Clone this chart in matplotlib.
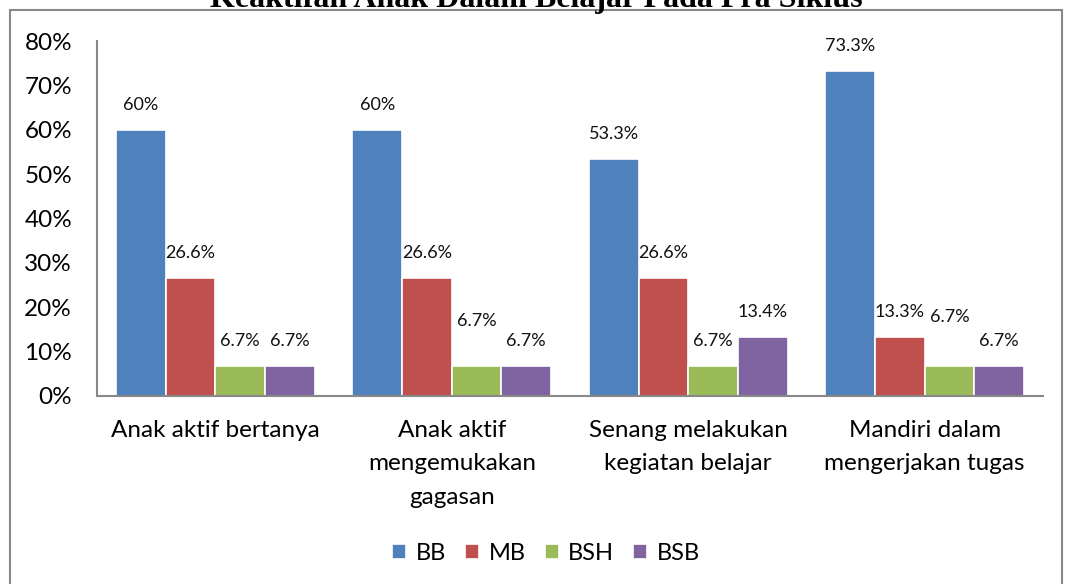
import numpy as np
import matplotlib
matplotlib.use("Agg")
import matplotlib.pyplot as plt
from matplotlib.patches import Rectangle

# data
categories = ["Anak aktif bertanya", "Anak aktif\nmengemukakan\ngagasan",
              "Senang melakukan\nkegiatan belajar", "Mandiri dalam\nmengerjakan tugas"]
series = ["BB", "MB", "BSH", "BSB"]
bb = [60, 60, 53.3, 73.3]
mb = [26.6, 26.6, 26.6, 13.3]
bsh = [6.7, 6.7, 6.7, 6.7]
bsb = [6.7, 6.7, 13.4, 6.7]
labels_bb = ["60%", "60%", "53.3%", "73.3%"]
labels_mb = ["26.6%", "26.6%", "26.6%", "13.3%"]
labels_bsh = ["6.7%", "6.7%", "6.7%", "6.7%"]
labels_bsb = ["6.7%", "6.7%", "13.4%", "6.7%"]

colors = ["#4F81BD", "#C0504D", "#9BBB59", "#8064A2"]
# extra lift (pixels) Excel gave some labels to avoid overlaps
extra_lift = [[0, 0, 0, 0], [0, 0, 0, 0], [0, 20, 0, 24], [0, 0, 0, 0]]

plt.rcParams['font.family'] = ['Lato', 'DejaVu Sans']

fig = plt.figure(figsize=(10.65, 5.84), dpi=100)
ax = fig.add_axes([97/1065, 1-396/584, (1043-97)/1065, (396-41)/584])

x = np.arange(len(categories))
w = 0.21
values = [bb, mb, bsh, bsb]
texts = [labels_bb, labels_mb, labels_bsh, labels_bsb]
for i, (vals, name) in enumerate(zip(values, series)):
    pos = x + (i - 1.5) * w
    ax.bar(pos, vals, w, color=colors[i], edgecolor="white", linewidth=1.2, label=name)
    for j, (p, v) in enumerate(zip(pos, vals)):
        ax.annotate(texts[i][j], (p, v), xytext=(0, 25 + extra_lift[i][j]),
                    textcoords="offset pixels", ha="center", va="center",
                    fontsize=13, color="#111111")

ax.set_xlim(-0.5, 3.5)
ax.set_ylim(0, 80)
ax.set_yticks(range(0, 81, 10))
ax.set_yticklabels([f"{t}%" for t in range(0, 81, 10)], fontsize=17.5)
ax.set_xticks(x)
ax.set_xticklabels(categories, fontsize=17.5, linespacing=1.75)
ax.tick_params(axis="y", length=0, pad=18)
ax.tick_params(axis="x", length=0, pad=17)
for s in ["top", "right"]:
    ax.spines[s].set_visible(False)
for s in ["left", "bottom"]:
    ax.spines[s].set_color("#888888")
    ax.spines[s].set_linewidth(1.5)

fig.legend(loc="center", bbox_to_anchor=(546/1065, 1-553/584), ncol=4, frameon=False,
           fontsize=17, handlelength=0.6, handleheight=0.6, handletextpad=0.4,
           columnspacing=0.8)

# outer chart border (bottom edge falls outside the image)
fig.patches.append(Rectangle((10/1065, -0.1), (1062-10)/1065, 1.1-10/584,
                             transform=fig.transFigure, fill=False,
                             edgecolor="#888888", linewidth=1.5))
fig.text(536/1065, 1-7/584, "Keaktifan Anak Dalam Belajar Pada Pra Siklus",
         ha="center", va="baseline", fontsize=23, fontweight="bold",
         family="Liberation Serif")

fig.savefig("out.png", dpi=100)
